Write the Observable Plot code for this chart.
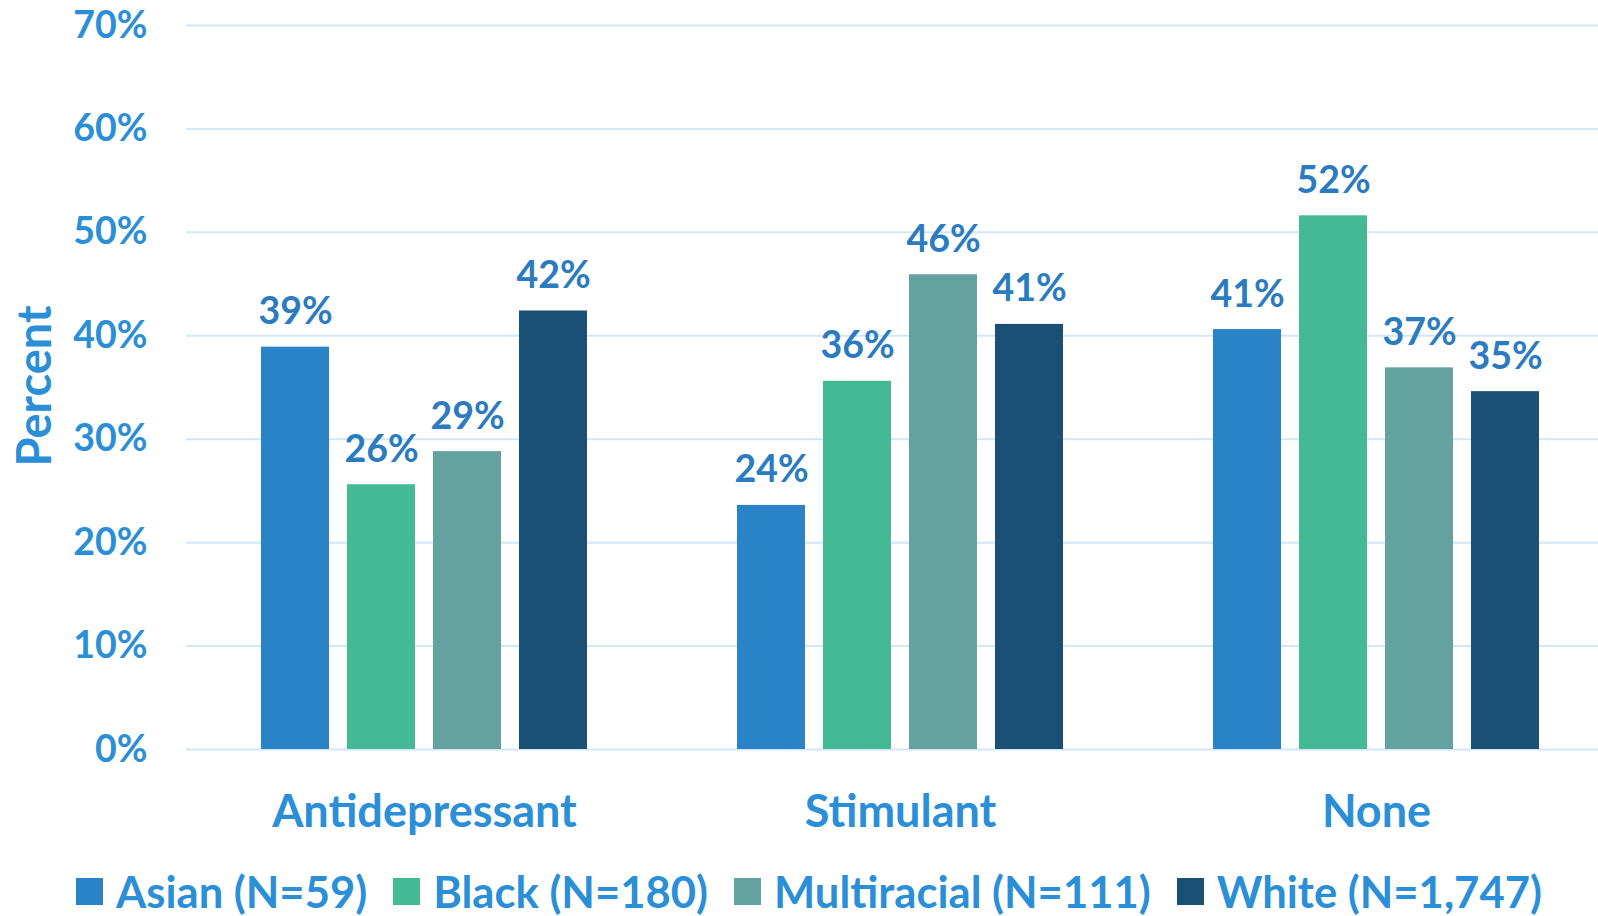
<!DOCTYPE html>
<html>
<head>
<meta charset="utf-8">
<script src="https://cdn.jsdelivr.net/npm/d3@7"></script>
<script src="https://cdn.jsdelivr.net/npm/@observablehq/plot@0.6"></script>
<style>
  html, body { margin: 0; padding: 0; background: #fff; overflow: hidden; }
  #wrap { position: relative; width: 1598px; height: 916px; font-family: "Lato", sans-serif; font-weight: 700; }
  #chart svg text { font-family: "Lato", sans-serif; font-weight: 700; }
  #ylabel { position: absolute; left: 33px; top: 386px; transform: translate(-50%, -50%) rotate(-90deg);
            font-size: 47px; line-height: 47px; color: #2B8FD8; white-space: nowrap; }
  #legend { position: absolute; left: 76px; top: 869px; display: flex; align-items: center;
            font-size: 43.6px; line-height: 44px; color: #2B8FD8; white-space: nowrap; }
  .item { display: flex; align-items: center; margin-right: 26px; }
  .sw { width: 27px; height: 27px; margin-right: 13px; }
</style>
</head>
<body>
<div id="wrap">
  <div id="chart"></div>
  <div id="ylabel">Percent</div>
  <div id="legend"></div>
</div>
<script>
const categories = ["Antidepressant", "Stimulant", "None"];
const races = ["Asian (N=59)", "Black (N=180)", "Multiracial (N=111)", "White (N=1,747)"];
const asian = [38.9, 23.6, 40.6];
const black = [25.6, 35.6, 51.6];
const multiracial = [28.8, 45.9, 36.9];
const white = [42.4, 41.1, 34.6];
const colors = ["#2983C6", "#43BA94", "#64A29F", "#1B5076"];
const yTicks = [0, 10, 20, 30, 40, 50, 60, 70];

const series = [asian, black, multiracial, white];
const data = categories.flatMap((c, i) => races.map((r, j) => ({category: c, race: r, value: series[j][i]})));

const chart = Plot.plot({
  width: 1598,
  height: 850,
  marginLeft: 186,
  marginRight: -16,
  marginTop: 25,
  marginBottom: 101,
  fx: {domain: categories, paddingInner: 0, paddingOuter: 0, label: null, axis: null},
  x: {domain: races, paddingInner: 0.21, paddingOuter: 0.863, axis: null},
  y: {domain: [0, 70], axis: null},
  color: {domain: races, range: colors},
  marks: [
    Plot.ruleY(yTicks, {stroke: "#D3E6F4", strokeWidth: 2}),
    Plot.axisY(yTicks, {tickSize: 0, tickPadding: 39, fontSize: 37.5, tickFormat: d => d + "%", label: null, color: "#2B8FD8"}),
    Plot.axisFx({anchor: "bottom", tickSize: 0, tickPadding: 46, fontSize: 45, label: null, color: "#2B8FD8"}),
    Plot.barY(data, {fx: "category", x: "race", y: "value", fill: "race"}),
    Plot.text(data, {fx: "category", x: "race", y: "value", text: d => Math.round(d.value) + "%",
      lineAnchor: "bottom", dy: -23, fontSize: 37.5, fill: "#2A7BBF"})
  ]
});
document.getElementById("chart").appendChild(chart);

const legend = document.getElementById("legend");
races.forEach((r, i) => {
  const it = document.createElement("div");
  it.className = "item";
  const sw = document.createElement("div");
  sw.className = "sw";
  sw.style.background = colors[i];
  const t = document.createElement("span");
  t.textContent = r;
  it.appendChild(sw);
  it.appendChild(t);
  legend.appendChild(it);
});
</script>
</body>
</html>
